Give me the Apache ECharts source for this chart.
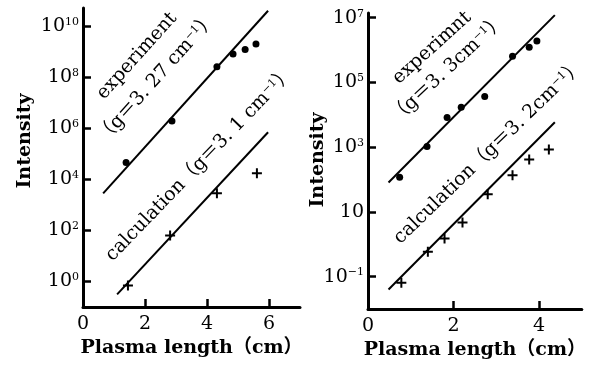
<!DOCTYPE html>
<html>
<head>
<meta charset="utf-8">
<script src="https://cdn.jsdelivr.net/npm/echarts@6/dist/echarts.min.js"></script>
<style>
  html, body { margin: 0; padding: 0; background: #fff; }
  #chart { width: 589px; height: 368px; }
</style>
</head>
<body>
<div id="chart"></div>
<script>
// left panel: g = 3.27 / 3.1
const leftExpLen = [1.39, 2.87, 4.32, 4.84, 5.23, 5.58];
const leftExpI = [4.5e4, 1.9e6, 2.5e8, 8e8, 1.2e9, 1.95e9];
const leftCalcLen = [1.45, 2.81, 4.32, 5.61];
const leftCalcI = [0.7, 63, 2800, 1.7e4];
const leftExpFit = [[0.65, 2800], [5.97, 3.9e10]];
const leftCalcFit = [[1.1, 0.31], [5.97, 6.9e5]];
const leftXTicks = [0, 2, 4, 6];
const leftYTicks = [1, 1e2, 1e4, 1e6, 1e8, 1e10];

// right panel: g = 3.3 / 3.2
const rightExpLen = [0.74, 1.38, 1.85, 2.18, 2.73, 3.38, 3.77, 3.95];
const rightExpI = [117, 1050, 8300, 1.7e4, 3.7e4, 6.5e5, 1.23e6, 1.9e6];
const rightCalcLen = [0.78, 1.40, 1.79, 2.21, 2.80, 3.38, 3.77, 4.23];
const rightCalcI = [0.065, 0.59, 1.5, 4.7, 35, 135, 417, 850];
const rightExpFit = [[0.48, 81], [4.37, 1.2e7]];
const rightCalcFit = [[0.48, 0.04], [4.37, 5900]];
const rightXTicks = [0, 2, 4];
const rightYTicks = [0.1, 10, 1e3, 1e5, 1e7];

const FONT = "'DejaVu Serif', 'Noto Sans CJK SC', serif";
const PLUS = 'path://M4,0H6V4H10V6H6V10H4V6H0V4H4Z';

function pairs(xs, ys) {
  return xs.map((x, i) => [x, ys[i]]);
}

function powLabel(plainTen) {
  return function (v) {
    let e = Math.round(Math.log10(v));
    if (plainTen && e === 1) return '{b|10}';
    return '{b|10}{s|' + String(e).replace('-', '\u2212') + '}';
  };
}

const supRich = {
  b: { fontSize: 19, fontFamily: FONT, color: '#000' },
  s: { fontSize: 11, fontFamily: FONT, color: '#000', verticalAlign: 'top' }
};

function xAxis(idx, max, ticks) {
  return {
    type: 'value', gridIndex: idx, min: 0, max: max,
    name: 'Plasma length\uFF08cm\uFF09', nameLocation: 'middle', nameGap: 29,
    nameTextStyle: { fontSize: 19, fontWeight: 'bold', fontFamily: FONT, color: '#000' },
    axisLine: { lineStyle: { color: '#000', width: 3 } },
    axisTick: { inside: true, length: 8, customValues: ticks, lineStyle: { color: '#000', width: 2.5 } },
    axisLabel: { customValues: ticks, margin: 8, fontSize: 19, fontFamily: FONT, color: '#000' },
    splitLine: { show: false }
  };
}

function yAxis(idx, min, max, ticks, plainTen) {
  return {
    type: 'log', logBase: 10, gridIndex: idx, min: min, max: max,
    axisLine: { lineStyle: { color: '#000', width: 3 } },
    axisTick: { inside: true, length: 8, customValues: ticks, lineStyle: { color: '#000', width: 2.5 } },
    axisLabel: { customValues: ticks, margin: 4, formatter: powLabel(plainTen), rich: supRich },
    splitLine: { show: false }
  };
}

function fitLine(idx, data) {
  return {
    type: 'line', xAxisIndex: idx, yAxisIndex: idx, data: data,
    showSymbol: false, silent: true,
    lineStyle: { color: '#000', width: 2 }
  };
}

function marks(idx, data, symbol, size) {
  return {
    type: 'scatter', xAxisIndex: idx, yAxisIndex: idx, data: data,
    symbol: symbol, symbolSize: size,
    itemStyle: { color: '#000', opacity: 1 }
  };
}

function note(x, y, deg, text) {
  return {
    type: 'text', x: x, y: y, rotation: deg * Math.PI / 180,
    style: {
      text: text, fontSize: 19, fontFamily: FONT, fill: '#000',
      align: 'center', verticalAlign: 'middle',
      rich: { s: { fontSize: 11, fontFamily: FONT, verticalAlign: 'top' } }
    }
  };
}

function yName(x, y) {
  return {
    type: 'text', x: x, y: y, rotation: Math.PI / 2,
    style: { text: 'Intensity', fontSize: 19, fontWeight: 'bold', fontFamily: FONT, fill: '#000', align: 'center', verticalAlign: 'middle' }
  };
}

const chart = echarts.init(document.getElementById('chart'), null, { renderer: 'canvas' });

chart.setOption({
  backgroundColor: '#fff',
  animation: false,
  grid: [
    { left: 83, top: 8, width: 217, height: 299 },
    { left: 368, top: 13, width: 220, height: 296 }
  ],
  xAxis: [xAxis(0, 7, leftXTicks), xAxis(1, 5, rightXTicks)],
  yAxis: [yAxis(0, 0.1, 5e10, leftYTicks, false), yAxis(1, 0.01, 1.4e7, rightYTicks, true)],
  series: [
    fitLine(0, leftExpFit),
    fitLine(0, leftCalcFit),
    marks(0, pairs(leftExpLen, leftExpI), 'circle', 7),
    marks(0, pairs(leftCalcLen, leftCalcI), PLUS, 10),
    fitLine(1, rightExpFit),
    fitLine(1, rightCalcFit),
    marks(1, pairs(rightExpLen, rightExpI), 'circle', 7),
    marks(1, pairs(rightCalcLen, rightCalcI), PLUS, 10)
  ],
  graphic: [
    yName(25, 141),
    yName(318, 160),
    note(137, 56, 48, 'experiment'),
    note(157, 78, 48, '\uFF08g\uFF1D3. 27 cm{s|\u22121}\uFF09'),
    note(200, 164, 46, 'calculation\uFF08g\uFF1D3. 1 cm{s|\u22121}\uFF09'),
    note(432, 48, 42, 'experimnt'),
    note(448, 69, 43, '\uFF08g\uFF1D3. 3cm{s|\u22121}\uFF09'),
    note(489, 152, 44, 'calculation\uFF08g\uFF1D3. 2cm{s|\u22121}\uFF09')
  ]
});
</script>
</body>
</html>
